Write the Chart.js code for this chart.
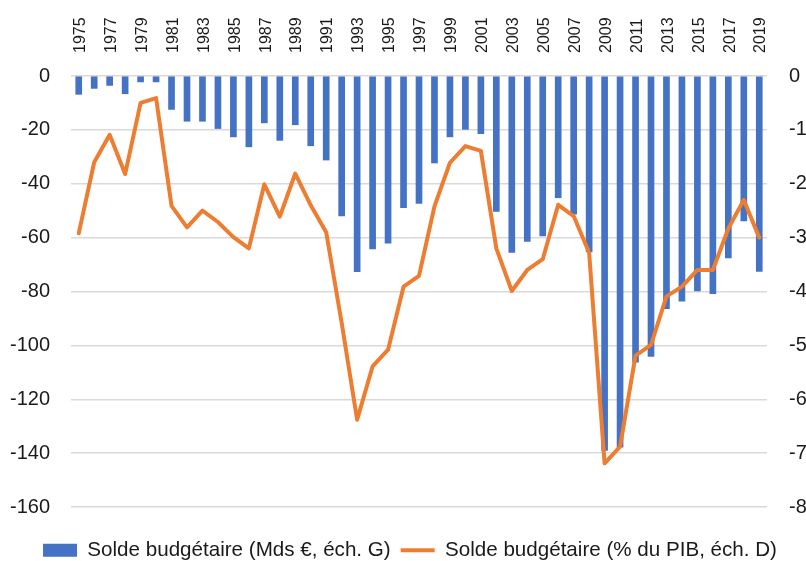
<!DOCTYPE html>
<html>
<head>
<meta charset="utf-8">
<script src="https://cdn.jsdelivr.net/npm/chart.js@4/dist/chart.umd.min.js"></script>
<style>
  html, body { margin: 0; padding: 0; background: #fff; }
  #wrap { width: 806px; height: 561px; position: relative; }
</style>
</head>
<body>
<div id="wrap"><canvas id="c" width="806" height="561"></canvas></div>
<script>
const years = [1975,1976,1977,1978,1979,1980,1981,1982,1983,1984,1985,1986,1987,1988,1989,1990,1991,1992,1993,1994,1995,1996,1997,1998,1999,2000,2001,2002,2003,2004,2005,2006,2007,2008,2009,2010,2011,2012,2013,2014,2015,2016,2017,2018,2019];
const soldeMds = [-6.8,-4.6,-3.5,-6.6,-2.2,-2.2,-12.4,-16.8,-16.8,-19.5,-22.6,-26.3,-17.4,-23.9,-18.1,-25.9,-31.2,-51.9,-72.6,-64.2,-62.1,-48.9,-47.3,-32.3,-22.6,-19.8,-21.4,-50.3,-65.5,-61.4,-59.4,-45.2,-51.3,-65.3,-139.0,-137.8,-106.2,-104.1,-86.4,-83.6,-79.8,-80.8,-67.5,-53.8,-72.5];
const soldePIB = [-2.92,-1.60,-1.09,-1.82,-0.50,-0.41,-2.41,-2.81,-2.50,-2.71,-2.99,-3.20,-2.01,-2.61,-1.81,-2.40,-2.90,-4.58,-6.38,-5.39,-5.08,-3.91,-3.71,-2.42,-1.61,-1.30,-1.39,-3.20,-3.99,-3.60,-3.40,-2.39,-2.60,-3.28,-7.19,-6.88,-5.19,-4.99,-4.09,-3.91,-3.60,-3.60,-2.83,-2.30,-3.00];
const leftTicks = [0,-20,-40,-60,-80,-100,-120,-140,-160];
const rightTicks = [0,-1,-2,-3,-4,-5,-6,-7,-8];
const seriesNames = ['Solde budgétaire (Mds €, éch. G)', 'Solde budgétaire (% du PIB, éch. D)'];

const FONT = "'Liberation Sans', Arial, sans-serif";
const TXT = '#1a1a1a';

// Fix legend box height and shift its drawing (Excel-like legend placement)
const legendPlace = {
  id: 'legendPlace',
  beforeLayout(chart) {
    const lg = chart.legend;
    if (lg && !lg._patched) {
      const f = lg.fit;
      lg.fit = function () { f.call(this); this.height = 54; };
      const d = lg.draw;
      lg.draw = function () {
        const ctx = this.ctx;
        ctx.save();
        ctx.translate(7, 23);
        d.call(this);
        ctx.restore();
      };
      lg._patched = true;
    }
  }
};

new Chart(document.getElementById('c'), {
  data: {
    labels: years.map(String),
    datasets: [
      {
        type: 'bar',
        label: seriesNames[0],
        data: soldeMds,
        yAxisID: 'y',
        backgroundColor: '#4472C4',
        borderWidth: 0,
        barThickness: 6,
        pointStyle: 'rect',
        order: 2
      },
      {
        type: 'line',
        label: seriesNames[1],
        data: soldePIB,
        yAxisID: 'y1',
        borderColor: '#ED7D31',
        backgroundColor: '#ED7D31',
        borderWidth: 4,
        pointRadius: 0,
        tension: 0,
        borderJoinStyle: 'round',
        borderCapStyle: 'round',
        pointStyle: 'line',
        order: 1
      }
    ]
  },
  plugins: [legendPlace],
  options: {
    responsive: false,
    animation: false,
    events: [],
    layout: { padding: 0 },
    plugins: {
      tooltip: { enabled: false },
      legend: {
        position: 'bottom',
        labels: {
          usePointStyle: true,
          pointStyleWidth: 34,
          boxHeight: 13,
          padding: 10,
          color: TXT,
          font: { family: FONT, size: 20.6 },
          sort: (a, b) => a.datasetIndex - b.datasetIndex
        }
      }
    },
    scales: {
      x: {
        position: 'top',
        offset: true,
        grid: { display: false, drawTicks: false },
        border: { display: false },
        ticks: {
          autoSkip: false,
          maxRotation: 90,
          minRotation: 90,
          padding: 23,
          labelOffset: 21,
          color: TXT,
          font: { family: FONT, size: 16 },
          callback: function(v, i) { return i % 2 === 0 ? this.getLabelForValue(v) : ''; }
        },
        afterFit: s => { s.height = 76; }
      },
      y: {
        position: 'left',
        min: -160, max: 0,
        afterBuildTicks: s => { s.ticks = leftTicks.map(v => ({ value: v })); },
        grid: { color: '#d9d9d9', lineWidth: 1.5, drawTicks: false },
        border: { display: false },
        ticks: { padding: 21, color: TXT, font: { family: FONT, size: 20 } },
        afterFit: s => { s.width = 71; }
      },
      y1: {
        position: 'right',
        min: -8, max: 0,
        afterBuildTicks: s => { s.ticks = rightTicks.map(v => ({ value: v })); },
        grid: { drawOnChartArea: false, drawTicks: false },
        border: { display: false },
        ticks: { padding: 22, color: TXT, font: { family: FONT, size: 20 } },
        afterFit: s => { s.width = 39; }
      }
    }
  }
});
</script>
</body>
</html>
